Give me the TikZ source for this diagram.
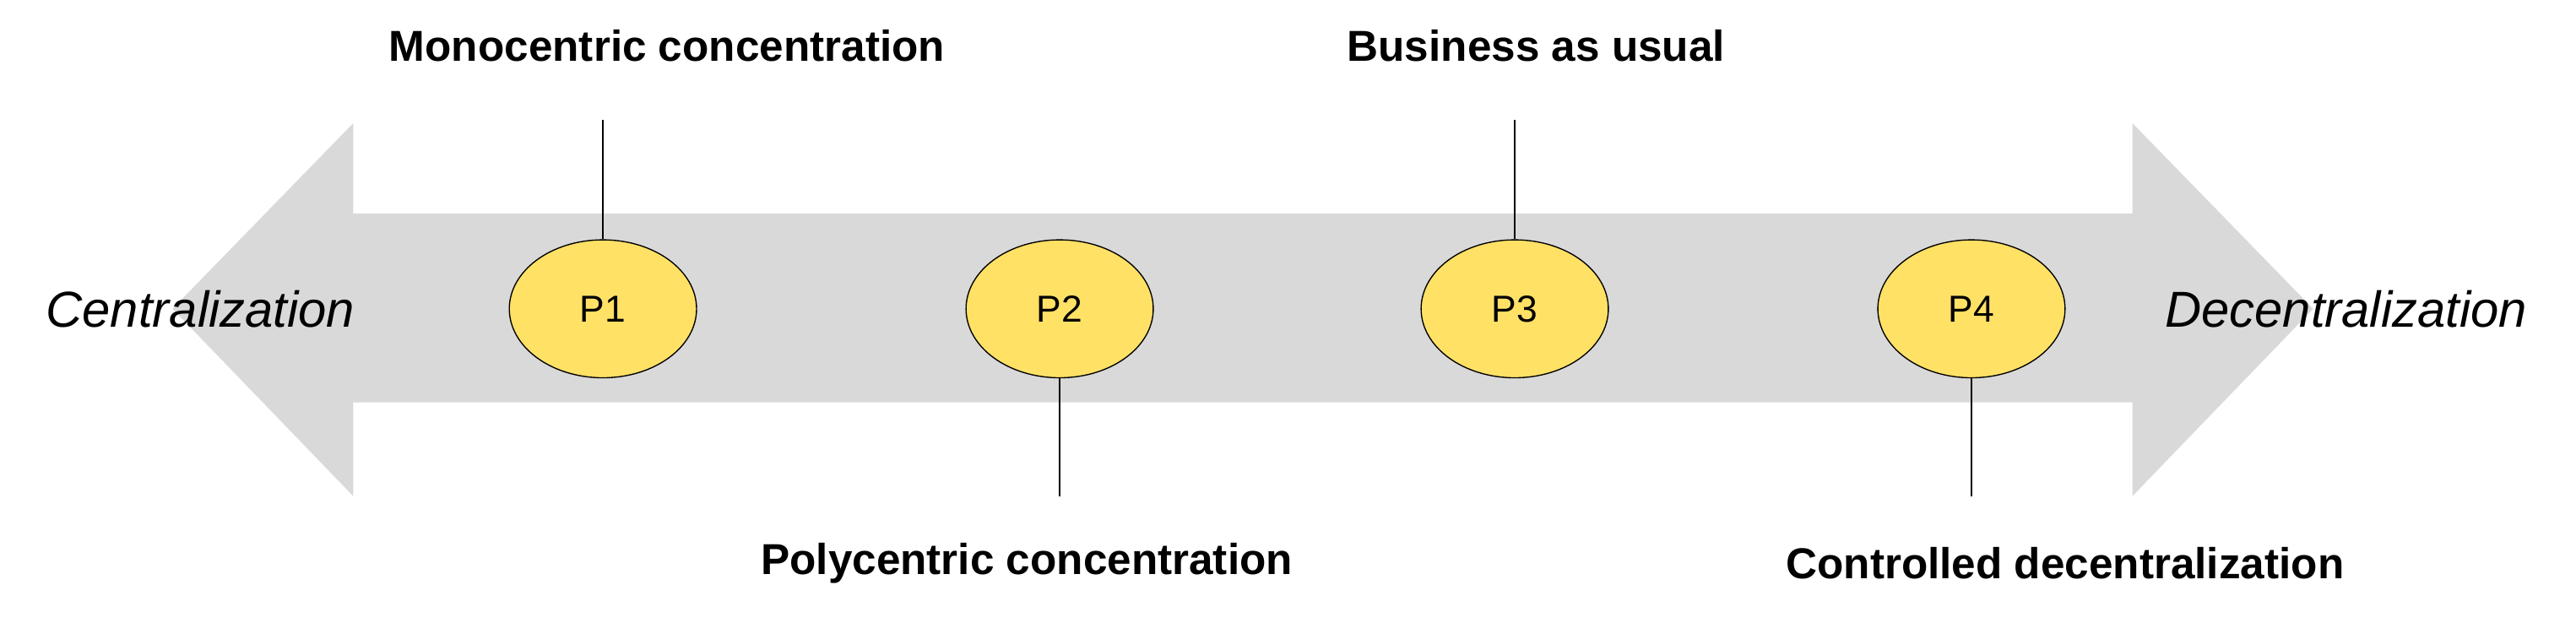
\documentclass[tikz,border=0pt]{standalone}
\usepackage{fontspec}
\setmainfont{Liberation Sans}
\usetikzlibrary{shapes.geometric}
\definecolor{arr}{HTML}{D9D9D9}
\definecolor{yel}{HTML}{FFE166}
\begin{document}
\begin{tikzpicture}[x=0.02cm,y=-0.02cm,
  pt/.style={ellipse,draw=black,fill=yel,minimum width=114\pgflinewidth*0+2.28cm,minimum height=1.68cm,inner sep=0pt,font=\fontsize{13}{15}\selectfont},
  lab/.style={font=\bfseries\fontsize{15}{18}\selectfont},
  side/.style={font=\itshape\fontsize{17.5}{20}\selectfont},
  stem/.style={draw=black,line width=0.6pt}]
\useasboundingbox (0,0) rectangle (1568,379);
\fill[arr] (105,188) -- (215,75) -- (215,130) -- (1298,130) -- (1298,75) -- (1408,188)
  -- (1298,302) -- (1298,245) -- (215,245) -- (215,302) -- cycle;
\coordinate (t1) at (367,73);
\coordinate (t3) at (922,73);
\coordinate (b2) at (645,302);
\coordinate (b4) at (1200,302);
\node[pt] (p1) at (367,188) {P1};
\node[pt] (p2) at (645,188) {P2};
\node[pt] (p3) at (922,188) {P3};
\node[pt] (p4) at (1200,188) {P4};
\draw[stem] (p1.north) -- (t1);
\draw[stem] (p3.north) -- (t3);
\draw[stem] (p2.south) -- (b2);
\draw[stem] (p4.south) -- (b4);
\node[lab] (l1) at (406,28) {Monocentric concentration};
\node[lab] (l3) at (935,28) {Business as usual};
\node[lab] (l2) at (625,343) {Polycentric concentration};
\node[lab] (l4) at (1257,343) {Controlled decentralization};
\node[side] (c) at (122,188) {Centralization};
\node[side] (d) at (1428,188) {Decentralization};
\end{tikzpicture}
\end{document}
